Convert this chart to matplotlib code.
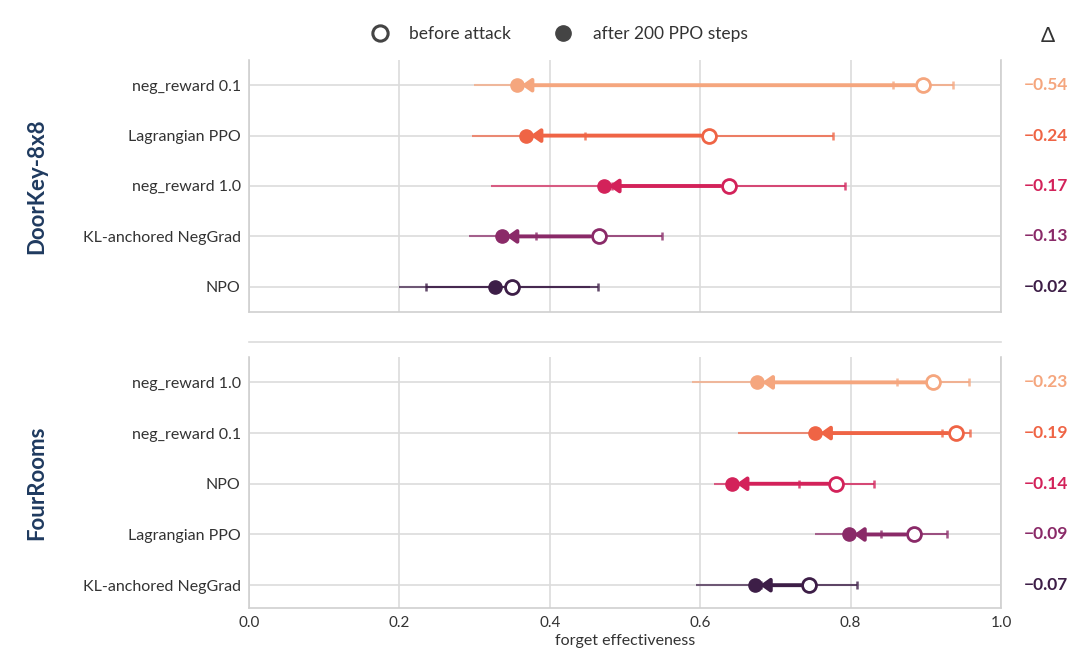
import numpy as np
import matplotlib
matplotlib.use('Agg')
from matplotlib import pyplot as plt
from matplotlib.lines import Line2D

plt.rcParams['font.family'] = ['Lato', 'DejaVu Sans']

# DoorKey-8x8 panel (top)
doorkey_methods = ["neg_reward 0.1", "Lagrangian PPO", "neg_reward 1.0",
                   "KL-anchored NegGrad", "NPO"]
doorkey_before = [0.896, 0.612, 0.638, 0.465, 0.350]
doorkey_before_err = [0.040, 0.165, 0.155, 0.084, 0.114]
doorkey_after = [0.356, 0.368, 0.472, 0.336, 0.327]
doorkey_after_err = [0.057, 0.072, 0.150, 0.043, 0.127]

# FourRooms panel (bottom)
fourrooms_methods = ["neg_reward 1.0", "neg_reward 0.1", "NPO",
                     "Lagrangian PPO", "KL-anchored NegGrad"]
fourrooms_before = [0.910, 0.940, 0.781, 0.884, 0.745]
fourrooms_before_err = [0.048, 0.019, 0.050, 0.044, 0.064]
fourrooms_after = [0.676, 0.753, 0.642, 0.798, 0.673]
fourrooms_after_err = [0.087, 0.103, 0.024, 0.046, 0.079]

row_colors = ["#F5A67E", "#EF6445", "#D3225A", "#8A2A68", "#3D1E47"]
grid_col = "#DCDCDC"
text_col = "#333333"

fig = plt.figure(figsize=(10.68, 6.53), dpi=100)
W, H = 1068.0, 653.0


def px_axes(x0, y0, x1, y1):
    return fig.add_axes([x0 / W, 1 - y1 / H, (x1 - x0) / W, (y1 - y0) / H])


def draw_panel(ax, methods, before, before_err, after, after_err, title, show_x):
    n = len(methods)
    ys = np.arange(n)
    for i in range(n):
        c = row_colors[i]
        ax.errorbar(after[i], ys[i], xerr=after_err[i], fmt='none', ecolor=c,
                    elinewidth=1.5, alpha=0.7, capsize=0, zorder=2)
        ax.errorbar(before[i], ys[i], xerr=before_err[i], fmt='none', ecolor=c,
                    elinewidth=1.5, alpha=0.8, capsize=3, capthick=1.8, zorder=2)
        if abs(before[i] - after[i]) > 0.05:
            ax.annotate("", xy=(after[i], ys[i]), xytext=(before[i], ys[i]),
                        arrowprops=dict(arrowstyle='-|>,head_length=0.45,head_width=0.32',
                                        mutation_scale=12, color=c, lw=2.8,
                                        shrinkA=6, shrinkB=3.5),
                        zorder=3)
        ax.plot(before[i], ys[i], 'o', ms=10, mfc='white', mec=c, mew=2, zorder=4)
        ax.plot(after[i], ys[i], 'o', ms=9.5, mfc=c, mec=c, zorder=4)
        d = after[i] - before[i]
        ax.text(1.031, ys[i], f"{d:.2f}".replace("-", "\u2212"),
                transform=ax.get_yaxis_transform(), ha='left', va='center',
                fontsize=12.5, fontweight='bold', color=c)
    ax.set_yticks(ys)
    ax.set_yticklabels(methods, fontsize=11.5, color=text_col)
    ax.set_xlim(0, 1)
    ax.set_xticks([0.0, 0.2, 0.4, 0.6, 0.8, 1.0])
    ax.grid(True, color=grid_col, lw=1.2)
    ax.set_axisbelow(True)
    ax.tick_params(length=0, pad=6)
    for s in ['left', 'bottom', 'right']:
        ax.spines[s].set_color("#D0D0D0")
        ax.spines[s].set_linewidth(1.2)
    ax.spines['top'].set_visible(False)
    if show_x:
        ax.set_xticklabels(["0.0", "0.2", "0.4", "0.6", "0.8", "1.0"],
                           fontsize=11, color=text_col)
        ax.set_xlabel("forget effectiveness", fontsize=11.5, color=text_col, labelpad=3)
    else:
        ax.set_xticklabels([])
    ax.text(-0.282, 0.5, title, transform=ax.transAxes, rotation=90,
            ha='center', va='center', fontsize=16, fontweight='bold', color="#1F3A5F")


ax1 = px_axes(249, 60, 1001, 312)
draw_panel(ax1, doorkey_methods, doorkey_before, doorkey_before_err,
           doorkey_after, doorkey_after_err, "DoorKey-8x8", False)
ax1.set_ylim(4.5, -0.5)

ax2 = px_axes(249, 357, 1001, 608)
draw_panel(ax2, fourrooms_methods, fourrooms_before, fourrooms_before_err,
           fourrooms_after, fourrooms_after_err, "FourRooms", True)
ax2.set_ylim(4.45, -0.5)

# separator line between panels
fig.add_artist(Line2D([249 / W, 1001 / W], [1 - 342 / H, 1 - 342 / H],
                      color="#DCDCDC", lw=1.2))

handles = [Line2D([], [], ls='none', marker='o', ms=11, mfc='white', mec='#444444', mew=2.2),
           Line2D([], [], ls='none', marker='o', ms=11, mfc='#444444', mec='#444444')]
fig.legend(handles, ["before attack", "after 200 PPO steps"], loc='center',
           bbox_to_anchor=(555 / W, 1 - 34 / H), ncol=2, frameon=False,
           fontsize=12.5, labelcolor=text_col, handletextpad=0.7, columnspacing=2.0)

fig.text(1048 / W, 1 - 36 / H, "\u0394", ha='center', va='center',
         fontsize=15, color=text_col)

fig.savefig("out.png", dpi=100)
